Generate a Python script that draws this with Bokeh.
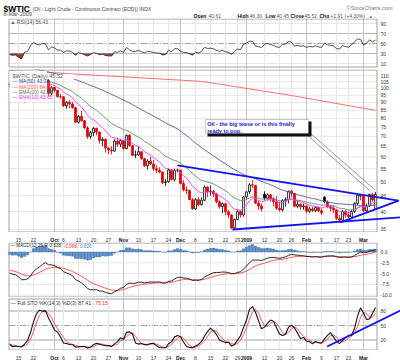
import numpy as np
import pandas as pd
from bokeh.plotting import figure
from bokeh.layouts import column
from bokeh.models import (Range1d, FixedTicker, Label, BoxAnnotation, Arrow, Span, Grid)
from bokeh.embed import file_html
from bokeh.resources import INLINE
from bokeh.core.properties import value

FONT = "Liberation Sans"

# ---------------- data ----------------
holidays = ["2008-07-04", "2008-09-01", "2008-11-27", "2008-12-25",
            "2009-01-01", "2009-01-19", "2009-02-16"]

# history closes Jul 1 - Sep 9 2008 (for indicator warm-up, not drawn)
hist_close = [140.97, 143.57, 145.29, 141.37, 136.04, 136.05, 141.65, 145.08, 145.18, 138.74,
              134.60, 129.29, 128.88, 131.04, 127.95, 124.44, 125.49, 123.26, 124.73, 122.19,
              126.77, 124.08,
              125.10, 121.41, 119.17, 118.58, 120.02, 115.20, 114.45, 113.01, 116.00, 115.01,
              113.77, 112.87, 114.53, 114.98, 121.18, 114.59, 114.75, 116.27, 118.15, 115.59,
              115.46,
              109.71, 109.35, 107.89, 106.23, 106.34, 103.26]
# highs / lows Aug 15 - Sep 9 (for stochastic warm-up)
hist_high_tail = [115.0, 114.9, 115.5, 117.6, 122.0, 121.9, 116.5, 117.0, 119.7, 119.0, 117.3,
                  117.6, 111.3, 110.2, 108.7, 109.0, 107.5]
hist_low_tail = [111.3, 111.3, 112.0, 113.0, 115.0, 113.8, 113.0, 114.0, 115.0, 115.2, 114.5,
                 105.5, 107.0, 107.0, 104.5, 102.5, 102.6]

# daily OHLC Sep 10 2008 - Mar 6 2009
opens = [103.3, 102.6, 100.9, 101.2, 95.7, 91.2, 97.2, 97.9, 104.6, 109.4, 106.6, 105.7, 108.0,
         106.0, 96.4, 100.6, 98.5, 94.0, 93.9, 87.8, 90.1, 89.0, 86.6, 77.7, 81.2, 78.6, 74.5,
         69.9, 71.9, 74.3, 72.2, 67.8, 68.5, 64.2, 63.2, 62.7, 67.5, 66.0,
         67.8, 63.9, 70.5, 65.3, 60.8, 61.0, 62.4, 59.3, 56.2, 58.2, 57.0, 55.0, 54.4, 53.6,
         49.6, 49.9, 54.5, 50.8, 54.4,
         54.4, 49.3, 47.0, 46.8, 43.7, 40.8, 43.7, 42.1, 43.5, 48.0, 46.3, 46.5, 45.6, 43.0,
         41.5, 42.4, 39.9, 39.0, 35.4, 37.7, 40.0, 39.0,
         44.6, 46.3, 48.8, 48.6, 42.6, 41.7, 45.5, 44.2, 45.3, 44.0, 43.0, 41.0, 40.5, 43.5,
         43.7, 46.5, 45.7, 41.6, 42.2, 41.4,
         41.7, 40.1, 40.8, 40.3, 41.2, 40.2, 44.5, 43.0, 41.5, 41.0, 40.5, 38.0, 37.5, 40.0,
         39.0, 38.4, 40.0, 42.5, 45.2,
         44.8, 40.2, 41.7, 45.4, 40.61]
highs = [104.2, 102.8, 102.0, 101.3, 96.2, 97.8, 98.6, 104.9, 110.5, 111.0, 108.0, 109.0, 108.5,
         107.0, 101.5, 101.1, 99.0, 96.0, 94.0, 91.0, 91.5, 90.5, 87.0, 82.0, 84.5, 79.0, 75.5,
         73.0, 74.9, 74.5, 72.5, 69.5, 68.8, 64.5, 65.0, 68.5, 69.3, 68.5,
         67.9, 71.0, 71.3, 65.5, 63.0, 65.0, 62.6, 59.5, 59.0, 60.0, 58.7, 56.6, 55.6, 54.0,
         51.0, 54.9, 54.8, 55.0, 55.0,
         54.5, 50.5, 48.3, 47.0, 44.2, 44.2, 44.5, 44.5, 48.6, 48.2, 48.5, 47.0, 46.0, 43.5,
         42.8, 42.4, 40.5, 39.2, 38.0, 40.6, 40.4, 44.8,
         46.5, 49.4, 50.5, 48.7, 43.5, 42.5, 46.5, 45.8, 45.5, 44.5, 44.8, 43.0, 43.8, 44.5,
         46.8, 47.0, 46.0, 43.5, 42.5, 42.5,
         41.8, 41.5, 41.5, 41.5, 41.5, 41.0, 44.8, 43.5, 42.0, 42.0, 40.8, 39.0, 40.5, 40.5,
         40.0, 40.5, 42.8, 45.5, 45.5,
         44.9, 42.5, 45.8, 46.0, 46.30]
lows = [100.5, 99.9, 99.5, 94.1, 90.5, 90.0, 93.5, 97.0, 103.5, 104.0, 104.0, 104.5, 104.5,
        94.0, 95.0, 97.0, 93.6, 92.5, 87.0, 86.0, 86.2, 86.0, 77.1, 77.0, 78.0, 74.0, 68.6,
        68.6, 70.0, 70.5, 66.3, 65.0, 62.0, 61.3, 61.2, 62.5, 64.6, 64.6,
        63.3, 63.5, 64.8, 60.5, 59.5, 60.5, 58.6, 55.7, 54.7, 56.5, 54.2, 53.2, 53.3, 49.0,
        48.3, 49.5, 50.3, 50.0, 53.5,
        49.0, 46.5, 45.5, 43.5, 40.5, 40.5, 41.6, 41.8, 43.2, 44.5, 45.0, 44.5, 42.5, 40.8,
        39.5, 38.9, 38.0, 35.1, 35.0, 37.5, 38.2, 38.5,
        44.0, 45.5, 47.5, 42.3, 40.5, 40.0, 43.5, 43.5, 43.0, 41.5, 40.5, 40.0, 40.0, 41.5,
        42.5, 44.5, 41.2, 41.0, 40.5, 40.5,
        39.5, 39.5, 39.8, 39.8, 39.8, 39.0, 42.5, 41.0, 40.0, 39.5, 37.5, 36.8, 37.3, 38.2,
        38.0, 38.0, 39.5, 42.0, 43.5,
        40.0, 39.5, 41.5, 43.0, 40.45]
closes = [102.6, 100.9, 101.2, 95.7, 91.2, 97.2, 97.9, 104.6, 109.4, 106.6, 105.7, 108.0, 106.9,
          96.4, 100.6, 98.5, 94.0, 93.9, 87.8, 90.1, 89.0, 86.6, 77.7, 81.2, 78.6, 74.5, 69.9,
          71.9, 74.3, 72.2, 67.8, 68.5, 64.2, 63.2, 62.7, 67.5, 66.0, 67.8,
          63.9, 70.5, 65.3, 60.8, 61.0, 62.4, 59.3, 56.2, 58.2, 57.0, 55.0, 54.4, 53.6, 49.6,
          49.9, 54.5, 50.8, 54.4, 54.4,
          49.3, 47.0, 46.8, 43.7, 40.8, 43.7, 42.1, 43.5, 48.0, 46.3, 46.5, 45.6, 43.0, 41.5,
          42.4, 39.9, 39.0, 35.4, 37.7, 40.0, 39.0, 44.6,
          46.3, 48.8, 48.6, 42.6, 41.7, 40.8, 44.2, 45.3, 44.0, 43.0, 41.0, 40.5, 43.5, 43.7,
          46.5, 45.7, 41.6, 42.2, 41.4, 41.7,
          40.1, 40.8, 40.3, 41.2, 40.2, 39.6, 43.0, 41.5, 41.0, 40.5, 38.0, 37.5, 40.0, 39.0,
          38.4, 40.0, 42.5, 45.2, 44.8,
          40.2, 41.7, 45.4, 43.6, 45.52]

# 200-day MA (bar index, value)
ma200_idx = [0, 13, 64, 94, 122]
ma200_val = [114.0, 112.5, 105.3, 94.8, 84.84]

# hand-drawn trend lines (bar index, value)
tl_upper_idx = [56.0, 129.7]
tl_upper_val = [56.4, 43.4]
tl_rise_idx = [110.3, 129.7]
tl_rise_val = [36.9, 43.4]
tl_low_idx = [74.3, 130.3]
tl_low_val = [35.0, 38.3]
tl_sto_idx = [105.9, 130.3]
tl_sto_val = [6.5, 81.0]

# callout (box corners and leader lines in bar index / price)
note_text = "Oil - the big tease or is this finally\nready to pop."
note_box = (65.33, 99.67, 79.30, 71.47)      # left, right, top, bottom
note_shadow = (66.0, 100.67, 78.13, 69.89)
note_anchor = (65.9, 78.6)
leader1_idx = [98.67, 120.0]
leader1_val = [71.47, 46.78]
leader2_idx = [100.33, 121.67]
leader2_val = [71.47, 47.13]

# x tick labels
tick_dates = ["2008-09-15", "2008-09-22", "2008-10-01", "2008-10-06", "2008-10-13",
              "2008-10-20", "2008-10-27", "2008-11-03", "2008-11-10", "2008-11-17",
              "2008-11-24", "2008-12-01", "2008-12-08", "2008-12-15", "2008-12-22",
              "2008-12-29", "2009-01-02", "2009-01-12", "2009-01-20", "2009-01-26",
              "2009-02-02", "2009-02-09", "2009-02-17", "2009-02-23", "2009-03-02"]
tick_labels = ["15", "22", "Oct", "6", "13", "20", "27", "Nov", "10", "17", "24", "Dec", "8",
               "15", "22", "29", "2009", "12", "20", "26", "Feb", "9", "17", "23", "Mar"]
month_labels = ["Oct", "Nov", "Dec", "2009", "Feb", "Mar"]

price_ticks = [35, 40, 45, 50, 55, 60, 65, 70, 75, 80, 85, 90, 95, 100, 105, 110]
price_tick_labels = [str(t) for t in price_ticks]
rsi_ticks = [10, 30, 50, 70, 90]
rsi_tick_labels = ["10", "30", "50", "70", "90"]
macd_ticks = [0, -2.5, -5, -7.5, -10]
macd_tick_labels = ["0.0", "-2.5", "-5.0", "-7.5", "-10.0"]
sto_ticks = [20, 50, 80]
sto_tick_labels = ["20", "50", "80"]

# ---------------- computations ----------------
days = pd.bdate_range("2008-07-01", "2009-03-06", freq="C", holidays=holidays)
NH = len(hist_close)
assert len(days) == NH + len(closes)
main_days = days[NH:]
N = len(closes)
idx = np.arange(N)
tick_idx = [int(i) for i in main_days.get_indexer(pd.to_datetime(tick_dates))]

all_close = np.array(hist_close + closes, dtype=float)


def ema(s, n):
    return pd.Series(s).ewm(span=n, adjust=False).mean().values


ema10 = ema(all_close, 10)[NH:]
ema20 = ema(all_close, 20)[NH:]
ma50 = pd.Series(all_close).rolling(50).mean().values[NH:]
macd_full = ema(all_close, 12) - ema(all_close, 26)
sig_full = ema(macd_full, 9)
macd = macd_full[NH:]
sig = sig_full[NH:]
hist = macd - sig

d = np.diff(all_close)
up = np.clip(d, 0, None)
dn = np.clip(-d, 0, None)
n = 14
au, ad = up[:n].mean(), dn[:n].mean()
rsi_full = np.full(len(all_close), np.nan)
rsi_full[n] = 100 - 100 / (1 + au / ad)
for i in range(n, len(d)):
    au = (au * (n - 1) + up[i]) / n
    ad = (ad * (n - 1) + dn[i]) / n
    rsi_full[i + 1] = 100 - 100 / (1 + au / ad)
rsi = rsi_full[NH:]

T = len(hist_high_tail)
sc = pd.Series(hist_close[-T:] + closes)
sh = pd.Series(hist_high_tail + highs)
sl = pd.Series(hist_low_tail + lows)
hh = sh.rolling(14).max()
ll = sl.rolling(14).min()
fastk = 100 * (sc - ll) / (hh - ll)
stok = fastk.rolling(3).mean().values[T:]
stod = fastk.rolling(3).mean().rolling(3).mean().values[T:]

o = np.array(opens)
h = np.array(highs)
l = np.array(lows)
c = np.array(closes)
prev = np.concatenate([[hist_close[-1]], c[:-1]])
RED = "#e00000"
col = np.where(c < prev, RED, "#000000")
fill = np.where(c > o, "#ffffff", col)

# ---------------- layout ----------------
# every figure uses the full 400px width with no borders (so a column does not re-align
# them); the data area is 8..377px and the price scale is drawn at its right.
W = 400
PX = 3.0                         # pixels per bar
XL = -3.0                        # bar index at the page's left edge
xr = Range1d(XL, XL + W / PX)
XA0 = XL + 8.5 / PX              # left border of data area
XA1 = XL + 376.5 / PX            # right border of data area
XLAB = XL + 380 / PX             # price-scale labels
GRID = "#e6e6e6"
MGRID = "#c4c4c4"
OUT = "#a0a0a0"
TXT = "#333333"
FS = "5px"

month_idx = [tick_idx[i] for i, t in enumerate(tick_labels) if t in month_labels]


def base_fig(height, yr, log=False):
    p = figure(width=W, height=height, x_range=xr, y_range=yr, output_backend="svg",
               toolbar_location=None, x_axis_location=None, y_axis_location=None,
               y_axis_type="log" if log else "linear",
               min_border_left=0, min_border_right=0, min_border_top=0, min_border_bottom=0)
    p.outline_line_color = None
    p.xgrid.visible = False
    p.ygrid.visible = False
    p.background_fill_color = "white"
    p.border_fill_color = "white"
    return p


def panel(height, yr, ticks, tick_text, b_top, b_bot, log=False):
    p = base_fig(height, yr, log)
    p.add_layout(Grid(dimension=0, ticker=FixedTicker(ticks=tick_idx), grid_line_color=GRID))
    for mi in month_idx:
        p.add_layout(Span(location=mi, dimension="height", line_color=MGRID,
                          line_width=1, level="underlay"))
    nt = len(ticks)
    p.segment(x0=[XA0] * nt, x1=[XA1] * nt, y0=ticks, y1=ticks, line_color=GRID,
              line_width=1, level="underlay")
    p.text(x=[XLAB] * nt, y=ticks, text=tick_text, text_align="left",
           text_baseline="middle", text_font=value(FONT), text_font_size=value(FS),
           text_color=TXT)
    p._border = (b_top, b_bot)
    return p


def add_border(p):
    b_top, b_bot = p._border
    p.line([XA0, XA1, XA1, XA0, XA0], [b_bot, b_bot, b_top, b_top, b_bot],
           line_color=OUT, line_width=1)


def hline(p, y, color, dash="solid"):
    p.segment(x0=[XA0], x1=[XA1], y0=[y], y1=[y], line_color=color, line_width=1,
              line_dash=dash, level="underlay")


def lab(p, text, sx, sy, size=FS, color=TXT, bold=False, align="left", base="middle"):
    p.add_layout(Label(x=sx, y=sy, x_units="screen", y_units="screen", text=text,
                       text_font=FONT, text_font_size=size, text_color=color,
                       text_font_style="bold" if bold else "normal",
                       text_align=align, text_baseline=base))


def strip(height, ypos):
    s = base_fig(height, Range1d(0, 1))
    nm = [i for i, t in enumerate(tick_labels) if t not in month_labels]
    bm = [i for i, t in enumerate(tick_labels) if t in month_labels]
    s.text(x=[tick_idx[i] for i in nm], y=[ypos] * len(nm), text=[tick_labels[i] for i in nm],
           text_align="center", text_baseline="middle", text_font=value(FONT),
           text_font_size=value(FS), text_color=TXT)
    s.text(x=[tick_idx[i] for i in bm], y=[ypos] * len(bm), text=[tick_labels[i] for i in bm],
           text_align="center", text_baseline="middle", text_font=value(FONT),
           text_font_size=value(FS), text_color="#111111", text_font_style="bold")
    return s


# pixel -> value maps of the panels (page y in px)
def rsi_v(y):
    return 50 + (43 - y) / 0.5


def price_v(y):
    return float(np.exp(np.log(110) - (y - 75) / 134.47))


def macd_v(y):
    return -(y - 251.5) / 4.3


def sto_v(y):
    return 50 + (325 - y) / 0.483


# --- header ---
ph = base_fig(18, Range1d(0, 18))


def yh(r):
    return 18 - r


lab(ph, "$WTIC", 3, yh(8.6), size="8.5px", color="#000000", bold=True, base="alphabetic")
lab(ph, "(Oil - Light Crude - Continuous Contract (EOD)) INDX", 32, yh(8.6), size="5px",
    color="#444444", base="alphabetic")
lab(ph, "6-Mar-2009", 3, yh(13.8), size="5.5px", color="#444444", base="alphabetic")
lab(ph, "\u00a9StockCharts.com", 392, yh(7.0), size="5.5px", color="#777777",
    align="right", base="alphabetic")
hdr = [("Open", 193, True), ("40.61", 208, False), ("High", 237, True), ("46.30", 249, False),
       ("Low", 265, True), ("40.45", 276, False), ("Close", 290, True), ("45.52", 304, False),
       ("Chg", 319, True), ("+1.91 (+4.30%)", 330, False)]
for t, xx, b in hdr:
    lab(ph, t, xx, yh(15.5), size="5px", color="#111111" if b else "#555555", bold=b,
        base="alphabetic")
lab(ph, "\u25b2", 368, yh(15.5), size="4.5px", color="#22aa22", base="alphabetic")

# --- RSI panel (page 18..69) ---
pa = panel(51, Range1d(rsi_v(69), rsi_v(18)), rsi_ticks, rsi_tick_labels,
           rsi_v(18.5), rsi_v(66.5))
hline(pa, 30, "#b8b8b8")
hline(pa, 70, "#b8b8b8")
hline(pa, 50, "#a0a0a0", "6 2 1 2")
rlow = np.minimum(rsi, 30)
pa.varea(x=idx, y1=rlow, y2=np.full(N, 30.0), fill_color="#8c2a2a", fill_alpha=0.9)
pa.line(idx, rsi, line_color="#222222", line_width=0.8)
add_border(pa)
lab(pa, "\u25b2 RSI(14) 56.43", 10, 69 - 21.0, color="#555555")

# --- price panel (page 69..232) ---
pb = panel(163, Range1d(price_v(232), price_v(69)), price_ticks, price_tick_labels,
           price_v(69.5), price_v(231.5), log=True)
pb.segment(x0=idx, y0=l, x1=idx, y1=h, line_color=col, line_width=0.8)
pb.vbar(x=idx, width=0.62, top=np.maximum(o, c), bottom=np.minimum(o, c),
        fill_color=fill, line_color=col, line_width=0.8)
pb.line(ma200_idx, ma200_val, line_color="#ff6f6f", line_width=1)
pb.line(idx, ma50, line_color="#5555a0", line_width=0.9)
pb.line(idx, ema20, line_color="#5f8f5f", line_width=0.9)
pb.line(idx, ema10, line_color="#ff33ff", line_width=0.9)
add_border(pb)

# legend background boxes
pb.add_layout(BoxAnnotation(left=XA0 + 0.2, right=12.5, top=price_v(70.5),
                            bottom=price_v(101.5), fill_color="white", fill_alpha=1.0,
                            line_color=None))
pb.add_layout(BoxAnnotation(left=12.5, right=21.5, top=price_v(74), bottom=price_v(78.5),
                            fill_color="white", fill_alpha=1.0, line_color=None))


def yb(r):
    return 232 - r


lab(pb, "$WTIC (Daily) 45.52", 12, yb(75.2), size="5.6px", color="#555555")
lab(pb, "\u2014 MA(50) 43.08", 12, yb(80.6), color="#2d2d8a")
lab(pb, "\u2014 MA(200) 84.84", 12, yb(86.0), color="#ff5050")
lab(pb, "\u2014 EMA(20) 42.28", 12, yb(91.3), color="#4f7f4f")
lab(pb, "\u2014 EMA(10) 43.05", 12, yb(96.7), color="#ee22ee")

BLUE = "#1414f0"
for xs, ys in ((tl_upper_idx, tl_upper_val), (tl_rise_idx, tl_rise_val), (tl_low_idx, tl_low_val)):
    pb.add_layout(Arrow(end=None, x_start=xs[0], y_start=ys[0], x_end=xs[1], y_end=ys[1],
                        line_color=BLUE, line_width=1.8))
for xs, ys in ((leader1_idx, leader1_val), (leader2_idx, leader2_val)):
    pb.add_layout(Arrow(end=None, x_start=xs[0], y_start=ys[0], x_end=xs[1], y_end=ys[1],
                        line_color="#8a8a8a", line_width=0.9))
pb.add_layout(BoxAnnotation(left=note_shadow[0], right=note_shadow[1], top=note_shadow[2],
                            bottom=note_shadow[3], fill_color="#111111", fill_alpha=1.0,
                            line_color=None))
pb.add_layout(BoxAnnotation(left=note_box[0], right=note_box[1], top=note_box[2],
                            bottom=note_box[3], fill_color="white", fill_alpha=1.0,
                            line_color="#222222", line_width=0.8))
pb.add_layout(Label(x=note_anchor[0], y=note_anchor[1], text=note_text, text_font=FONT,
                    text_font_size="5.5px", text_font_style="bold", text_color="#2020c8",
                    text_align="left", text_baseline="top", text_line_height=1.2))

sb = strip(10, 0.5)

# --- MACD (page 242..297) ---
pc = panel(55, Range1d(macd_v(297), macd_v(242)), macd_ticks, macd_tick_labels,
           macd_v(242.5), macd_v(296.5))
pc.vbar(x=idx, width=0.8, top=hist, bottom=0, fill_color="#4a86c4", line_color="#2e5f94",
        line_width=0.3)
pc.line(idx, sig, line_color="#ff4444", line_width=0.9)
pc.line(idx, macd, line_color="#111111", line_width=0.9)
add_border(pc)
lab(pc, "\u2014 MACD(12,26,9) 0.538,", 10, 297 - 245.2, size="4.6px", color="#333333")
lab(pc, "-0.088,", 63.5, 297 - 245.2, size="4.6px", color="#ff3333")
lab(pc, "0.626", 79.5, 297 - 245.2, size="4.6px", color="#3377cc")

# --- Full STO (page 297..350) ---
pd_ = panel(53, Range1d(sto_v(350), sto_v(297)), sto_ticks, sto_tick_labels,
            sto_v(298.5), sto_v(349.5))
hline(pd_, 20, "#b0b0b0")
hline(pd_, 80, "#b0b0b0")
hline(pd_, 50, "#a0a0a0", "6 2 1 2")
pd_.line(idx, stod, line_color="#ff4444", line_width=0.9)
pd_.line(idx, stok, line_color="#111111", line_width=1.1)
add_border(pd_)
pd_.add_layout(Arrow(end=None, x_start=tl_sto_idx[0], y_start=tl_sto_val[0],
                     x_end=tl_sto_idx[1], y_end=tl_sto_val[1], line_color=BLUE, line_width=1.8))
lab(pd_, "\u2014 Full STO %K(14,3) %D(3) 87.41,", 10, 350 - 302.5, size="5.2px", color="#333333")
lab(pd_, "75.15", 94.5, 350 - 302.5, size="5.2px", color="#ff3333")

sd = strip(13, 0.42)

layout = column(ph, pa, pb, sb, pc, pd_, sd)
open("out.html", "w").write(file_html(layout, INLINE))
